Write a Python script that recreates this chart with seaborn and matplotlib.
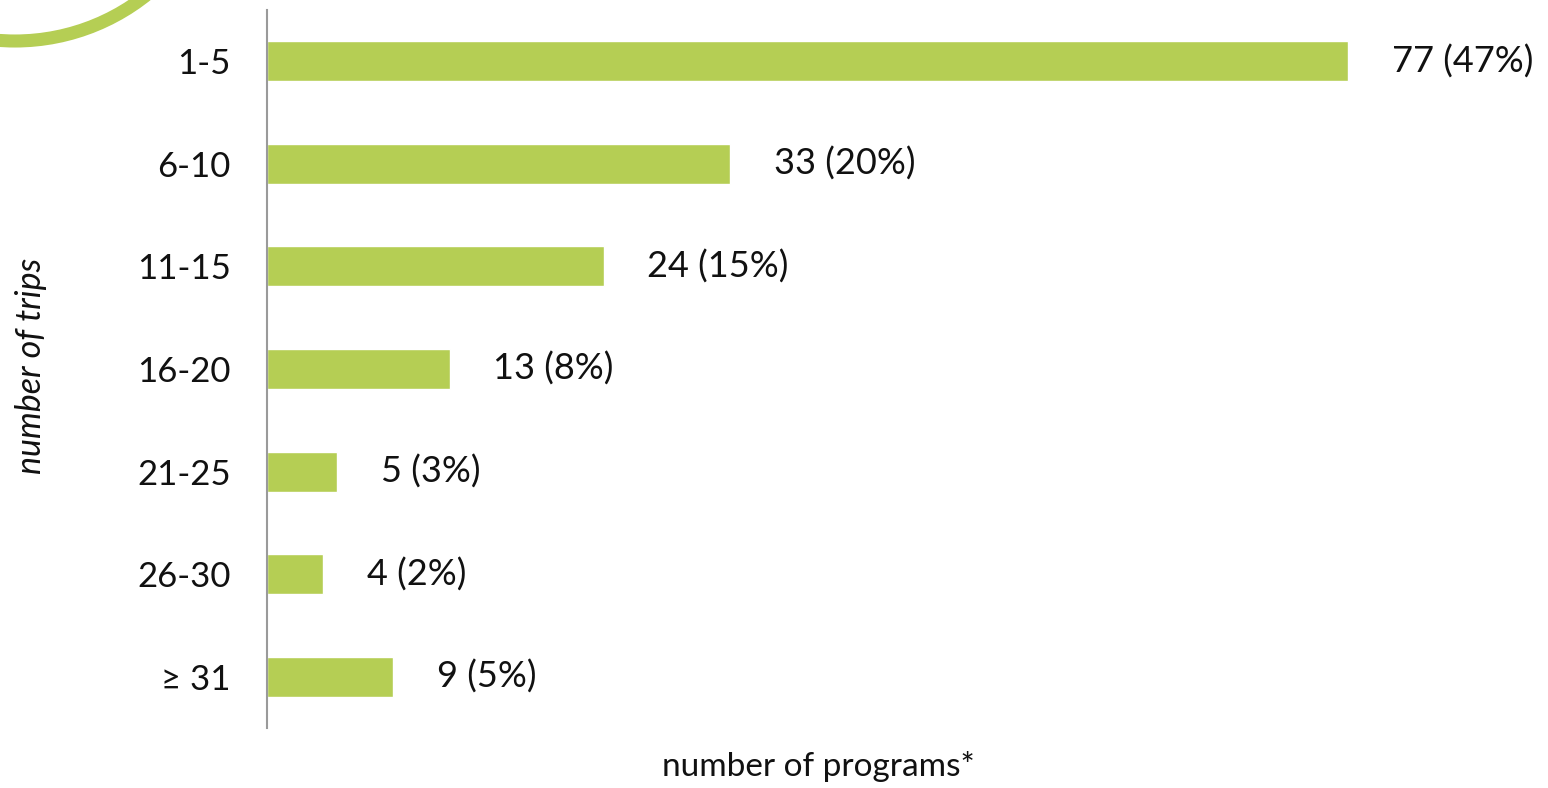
import matplotlib
matplotlib.use('Agg')
import matplotlib.pyplot as plt
import seaborn as sns
import pandas as pd
from matplotlib.patches import Circle

# data
trips = ['1-5', '6-10', '11-15', '16-20', '21-25', '26-30', '≥ 31']
programs = [77, 33, 24, 13, 5, 4, 9]
shares = [47, 20, 15, 8, 3, 2, 5]

df = pd.DataFrame({'trips': trips, 'programs': programs})

sns.set_style('white')
plt.rcParams['font.family'] = ['Lato', 'DejaVu Sans']

green = '#B5CE54'

fig = plt.figure(figsize=(15.48, 7.88), dpi=100)
ax = fig.add_axes([267 / 1548, 60 / 788, 1 - 267 / 1548, 718 / 788])

sns.barplot(data=df, x='programs', y='trips', color=green, width=0.39,
            saturation=1, ax=ax)

# value labels
for i, (v, s) in enumerate(zip(programs, shares)):
    ax.text(v + 3.1, i, f'{v} ({s}%)', va='center', ha='left',
            fontsize=26, color='#111111')

ax.set_xlim(0, (1548 - 267) / 14.04)
ax.set_ylim(6.5, -0.5)
ax.set_xticks([])
ax.set_ylabel('')
ax.set_xlabel('')
ax.tick_params(axis='y', length=0, pad=26, labelsize=25, labelcolor='#111111')

for side in ['top', 'right', 'bottom']:
    ax.spines[side].set_visible(False)
ax.spines['left'].set_color('#9a9a9a')
ax.spines['left'].set_linewidth(1.5)

fig.text(818 / 1548, 1 - 766 / 788, 'number of programs*', ha='center',
         va='center', fontsize=24, color='#111111')
fig.text(31 / 1548, 1 - 366 / 788, 'number of trips', ha='center',
         va='center', rotation=90, fontsize=24.5, style='italic', color='#111111')

# decorative arc in the top-left corner
arc = Circle((15, 788 + 170), 211, transform=None, fill=False,
             edgecolor=green, linewidth=9.4, clip_on=False)
fig.add_artist(arc)

fig.savefig('out.png', dpi=100)
